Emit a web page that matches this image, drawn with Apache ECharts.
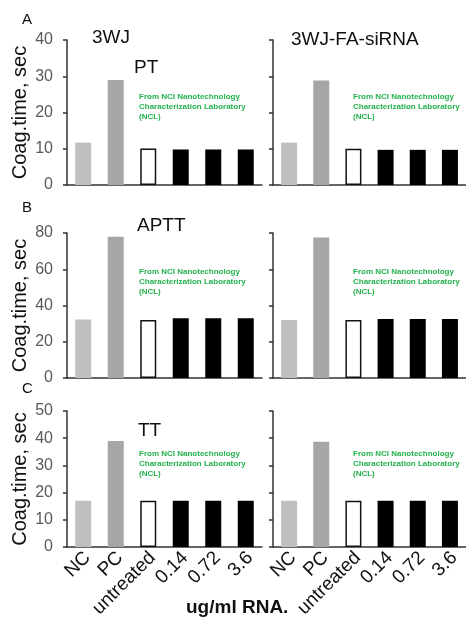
<!DOCTYPE html>
<html><head><meta charset="utf-8">
<script src="https://cdn.jsdelivr.net/npm/echarts@6/dist/echarts.min.js"></script>
<style>html,body{margin:0;padding:0;background:#fff}#c{width:466px;height:626px}</style>
</head><body><div id="c"></div>
<script>
const categories = ['NC','PC','untreated','0.14','0.72','3.6'];
const pt3wj   = [11.7, 29.0, 10.1, 9.8, 9.8, 9.8];
const ptFa    = [11.7, 28.8, 10.0, 9.7, 9.7, 9.7];
const aptt3wj = [32.3, 78.0, 32.0, 33.0, 33.0, 33.0];
const apttFa  = [32.0, 77.5, 32.0, 32.5, 32.5, 32.5];
const tt3wj   = [17.0, 39.0, 17.0, 17.0, 17.0, 17.0];
const ttFa    = [17.0, 38.7, 17.0, 17.0, 17.0, 17.0];
const yMax = [40, 80, 50];
const yInterval = [10, 20, 10];
const panelLetters = ['A','B','C'];
const assayNames = ['PT','APTT','TT'];
const colTitles = ['3WJ','3WJ-FA-siRNA'];
const yName = 'Coag.time, sec';
const xName = 'ug/ml RNA.';
const noteLines = 'From NCI Nanotechnology\nCharacterization Laboratory\n(NCL)';

const FONT = 'Liberation Sans, Arial, sans-serif';
const barColors = ['#bfbfbf','#a6a6a6','#ffffff','#000000','#000000','#000000'];

const rows = [
  {top:40, height:145, data:[pt3wj, ptFa]},
  {top:233, height:145, data:[aptt3wj, apttFa]},
  {top:411, height:136, data:[tt3wj, ttFa]}
];
const cols = [{left:67, width:195},{left:273, width:195}];

const grid=[], xAxis=[], yAxis=[], series=[];
rows.forEach((r, ri) => {
  cols.forEach((c, ci) => {
    const gi = grid.length;
    grid.push({left:c.left, top:r.top, width:c.width, height:r.height, containLabel:false});
    xAxis.push({
      type:'category', gridIndex:gi, data:categories,
      axisLine:{lineStyle:{color:'#333', width:1.5}},
      axisTick:{show:false},
      axisLabel:{show: ri===2, rotate:45, interval:0, fontSize:19, color:'#111', fontFamily:FONT, margin:12, padding:[0,-6,0,0]}
    });
    yAxis.push({
      type:'value', gridIndex:gi, min:0, max:yMax[ri], interval:yInterval[ri],
      splitLine:{show:false},
      axisLine:{show:true, lineStyle:{color:'#333', width:1.5}},
      axisTick:{show:true, length:4, lineStyle:{color:'#333', width:1.5}},
      axisLabel:{show: ci===0, fontSize:16, color:'#595959', fontFamily:FONT, margin:14},
      name: ci===0 ? yName : '', nameLocation:'middle', nameRotate:90, nameGap:37,
      nameTextStyle:{fontSize:20, color:'#111', fontFamily:FONT}
    });
    series.push({
      type:'bar', xAxisIndex:gi, yAxisIndex:gi, barWidth:16, silent:true,
      data: r.data[ci].map((v,i)=>({value:v, itemStyle:{color:barColors[i], borderColor: i===2?'#111':barColors[i], borderWidth: i===2?1.5:0}}))
    });
  });
});

const graphic = [];
const letterY = [20, 208, 389];
const assayPos = [[134,68],[137,226],[138,431]];
const noteY = [92, 267, 449];
rows.forEach((r, ri) => {
  graphic.push({type:'text', left:22, top:letterY[ri]-8, style:{text:panelLetters[ri], font:'15px '+FONT, fill:'#111'}});
  graphic.push({type:'text', left:assayPos[ri][0], top:assayPos[ri][1]-10, style:{text:assayNames[ri], font:'19px '+FONT, fill:'#111'}});
  graphic.push({type:'text', left:139, top:noteY[ri], style:{text:noteLines, font:'bold 8px '+FONT, fill:'#22b14c', lineHeight:10}});
  graphic.push({type:'text', left:353, top:noteY[ri], style:{text:noteLines, font:'bold 8px '+FONT, fill:'#22b14c', lineHeight:10}});
});
graphic.push({type:'text', left:92, top:28, style:{text:colTitles[0], font:'19px '+FONT, fill:'#111'}});
graphic.push({type:'text', left:291, top:30, style:{text:colTitles[1], font:'19px '+FONT, fill:'#111'}});
graphic.push({type:'text', left:186, top:598, style:{text:xName, font:'bold 19px '+FONT, fill:'#111'}});

const chart = echarts.init(document.getElementById('c'), null, {renderer:'canvas'});
chart.setOption({animation:false, backgroundColor:'#fff', grid, xAxis, yAxis, series, graphic});
</script></body></html>
